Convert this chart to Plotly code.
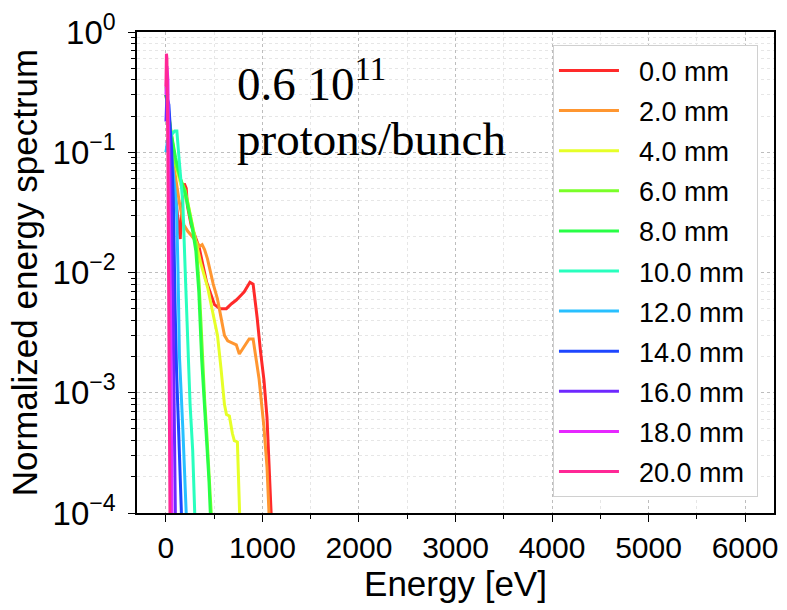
import plotly.graph_objects as go

labels = ["0.0 mm", "2.0 mm", "4.0 mm", "6.0 mm", "8.0 mm", "10.0 mm",
          "12.0 mm", "14.0 mm", "16.0 mm", "18.0 mm", "20.0 mm"]
colors = ["#ff2a2a", "#ff9630", "#e6ff28", "#7aff28", "#28ff46", "#28ffbe",
          "#28c0ff", "#1e46ff", "#6e28ff", "#e628ff", "#ff2896"]

e_00 = [0, 20, 50, 90, 130, 148, 160, 190, 210, 222, 260, 345, 421, 503, 560, 626, 680, 729,
        780, 811, 850, 870, 903, 925, 945, 980, 1016, 1047, 1070, 1092]
v_00 = [0.3, 0.25, 0.12, 0.05, 0.025, 0.019, 0.03, 0.055, 0.05, 0.036, 0.025, 0.016, 0.0083,
        0.0054, 0.0050, 0.0050, 0.0055, 0.0059, 0.0065, 0.0069, 0.0078, 0.0083, 0.0080, 0.0060,
        0.0042, 0.0022, 0.00126, 6.2e-4, 2.5e-4, 9e-5]
e_02 = [0, 30, 60, 100, 144, 185, 226, 270, 318, 350, 375, 400, 430, 452, 490, 534, 570, 606,
        640, 680, 729, 760, 790, 830, 862, 903, 930, 965, 1016, 1047, 1070]
v_02 = [0.3, 0.2, 0.1, 0.06, 0.036, 0.025, 0.022, 0.02, 0.018, 0.0165, 0.017, 0.0155, 0.013,
        0.0107, 0.008, 0.0060, 0.0042, 0.0030, 0.0027, 0.0026, 0.0025, 0.0021, 0.0023, 0.0026,
        0.0028, 0.0028, 0.002, 0.0013, 5.1e-4, 2.4e-4, 9e-5]
e_04 = [0, 50, 100, 150, 226, 298, 360, 432, 498, 534, 570, 606, 627, 657, 688, 708, 740, 752, 765]
v_04 = [0.3, 0.15, 0.08, 0.055, 0.038, 0.020, 0.012, 0.0075, 0.0042, 0.0030, 0.0016, 8e-4,
        6.6e-4, 6.4e-4, 4.6e-4, 4e-4, 3.9e-4, 1.8e-4, 9e-5]
e_06 = [0, 50, 100, 150, 200, 226, 270, 313, 344, 375, 400, 427, 450, 472]
v_06 = [0.35, 0.15, 0.08, 0.06, 0.048, 0.038, 0.026, 0.017, 0.0079, 0.002, 9e-4, 4e-4, 2e-4, 9e-5]
e_08 = [0, 50, 100, 150, 200, 226, 270, 310, 340, 370, 400, 425, 445, 462]
v_08 = [0.3, 0.15, 0.09, 0.06, 0.045, 0.036, 0.024, 0.015, 0.007, 0.0019, 8e-4, 3.8e-4, 1.9e-4, 9e-5]
e_10 = [0, 30, 60, 90, 113, 135, 155, 175, 200, 226, 250, 277, 300]
v_10 = [0.1, 0.12, 0.14, 0.15, 0.15, 0.09, 0.06, 0.038, 0.01, 0.0025, 8e-4, 3.3e-4, 9e-5]
e_12 = [0, 20, 50, 80, 110, 125, 140, 175, 212]
v_12 = [0.1, 0.13, 0.11, 0.06, 0.035, 0.01, 0.002, 5e-4, 9e-5]
e_14 = [0, 30, 60, 77, 95, 110, 135, 162]
v_14 = [0.3, 0.25, 0.1, 0.038, 0.005, 0.0015, 4e-4, 9e-5]
e_16 = [0, 10, 25, 50, 75, 98]
v_16 = [0.18, 0.3, 0.25, 0.05, 0.004, 9e-5]
e_18 = [0, 10, 20, 35, 50, 63]
v_18 = [0.3, 0.52, 0.4, 0.05, 0.003, 9e-5]
e_20 = [0, 5, 10, 20, 30, 42]
v_20 = [0.35, 0.66, 0.6, 0.1, 0.005, 9e-5]

energies = [e_00, e_02, e_04, e_06, e_08, e_10, e_12, e_14, e_16, e_18, e_20]
values = [v_00, v_02, v_04, v_06, v_08, v_10, v_12, v_14, v_16, v_18, v_20]

y_tickvals = [1e-4, 1e-3, 1e-2, 1e-1, 1]
y_ticktext = ["10<sup>\u22124</sup>", "10<sup>\u22123</sup>", "10<sup>\u22122</sup>",
              "10<sup>\u22121</sup>", "10<sup>0</sup>"]
x_tickvals = [0, 1000, 2000, 3000, 4000, 5000, 6000]

fig = go.Figure()
for lab, col, e, v in zip(labels, colors, energies, values):
    fig.add_trace(go.Scatter(x=e, y=v, mode="lines", name="\u00a0\u00a0" + lab + "\u00a0",
                             legendgroup=lab, line=dict(color=col, width=3)))

sans = "Liberation Sans, Arial, Helvetica, sans-serif"
serif = "Liberation Serif, Times New Roman, serif"
fig.update_layout(
    width=787, height=610,
    margin=dict(l=137, r=9, t=28, b=97),
    paper_bgcolor="white", plot_bgcolor="white",
    font=dict(family=sans, color="black"),
    showlegend=True,
    legend=dict(x=0.653, y=0.972, xanchor="left", yanchor="top",
                font=dict(size=27, family=sans), bgcolor="white",
                bordercolor="#d0d0d0", borderwidth=1, itemwidth=60,
                tracegroupgap=2),
    xaxis=dict(range=[-300, 6300], tickvals=x_tickvals, tickfont=dict(size=30),
               title=dict(text="Energy [eV]", font=dict(size=35), standoff=8),
               showline=True, mirror=True, linecolor="black", linewidth=1.5,
               ticks="outside", ticklen=7, tickcolor="black",
               showgrid=True, gridcolor="#bdbdbd", griddash="dot", gridwidth=1,
               zeroline=False,
               minor=dict(dtick=500, tick0=0, ticks="outside", ticklen=4, tickcolor="black",
                          showgrid=True, gridcolor="#e6e6e6", gridwidth=1)),
    yaxis=dict(type="log", range=[-4, 0], tickvals=y_tickvals, ticktext=y_ticktext,
               tickfont=dict(size=33), ticklabelstandoff=6,
               title=dict(text="Normalized energy spectrum", font=dict(size=35), standoff=4),
               showline=True, mirror=True, linecolor="black", linewidth=1.5,
               ticks="outside", ticklen=7, tickcolor="black",
               showgrid=True, gridcolor="#bdbdbd", griddash="dot", gridwidth=1,
               zeroline=False,
               minor=dict(dtick="D1", ticks="outside", ticklen=4, tickcolor="black",
                          showgrid=True, gridcolor="#e6e6e6", gridwidth=1)),
    annotations=[
        dict(text="0.6 10<sup>11</sup>", x=0.154, y=0.9, xref="paper", yref="paper",
             xanchor="left", yanchor="middle", showarrow=False,
             font=dict(family=serif, size=47, color="black")),
        dict(text="protons/bunch", x=0.154, y=0.777, xref="paper", yref="paper",
             xanchor="left", yanchor="middle", showarrow=False,
             font=dict(family=serif, size=47, color="black")),
    ],
)

fig.write_html("out.html")
